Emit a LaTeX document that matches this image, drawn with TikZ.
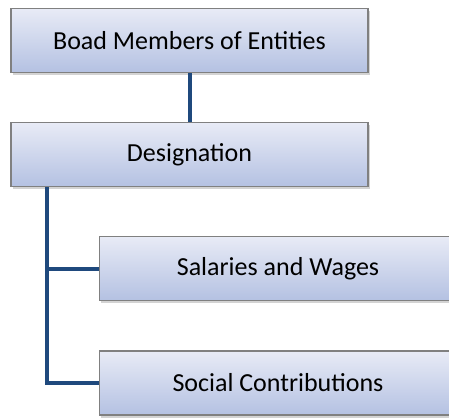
\documentclass[tikz,border=0pt]{standalone}
\usepackage{fontspec}
\setmainfont{Carlito}
\usepackage{tikz}
\usetikzlibrary{shadows}

\definecolor{boxtop}{RGB}{232,235,246}
\definecolor{boxbot}{RGB}{180,193,226}
\definecolor{boxline}{RGB}{128,128,128}
\definecolor{linkblue}{RGB}{31,73,125}

\tikzset{
  orgbox/.style={rectangle, draw=boxline, line width=1.2pt,
    top color=boxtop, bottom color=boxbot,
    minimum width=357pt, minimum height=64pt, inner sep=0pt,
    font=\fontsize{26}{30}\selectfont,
    drop shadow={opacity=0.35, shadow xshift=1.5pt, shadow yshift=-2.5pt}},
  link/.style={draw=linkblue, line width=4pt}
}

\begin{document}
\begin{tikzpicture}[x=1pt, y=-1pt]
  \clip (0,0) rectangle (449,417);
  \node[orgbox] (board) at (189.5,40.5) {Boad Members of Entities};
  \node[orgbox] (desig) at (189.5,154.5) {Designation};
  \node[orgbox] (wages) at (278,268.5) {Salaries and Wages};
  \node[orgbox] (social) at (278,383) {Social Contributions};
  \coordinate (trunk) at ([xshift=37pt]desig.south west);
  \path[link]
  (board) edge (desig)
  (trunk) edge [-, to path={|- (\tikztotarget)}] (wages.west)
  (trunk) edge [-, to path={|- (\tikztotarget)}] (social.west)
  ;
\end{tikzpicture}
\end{document}
